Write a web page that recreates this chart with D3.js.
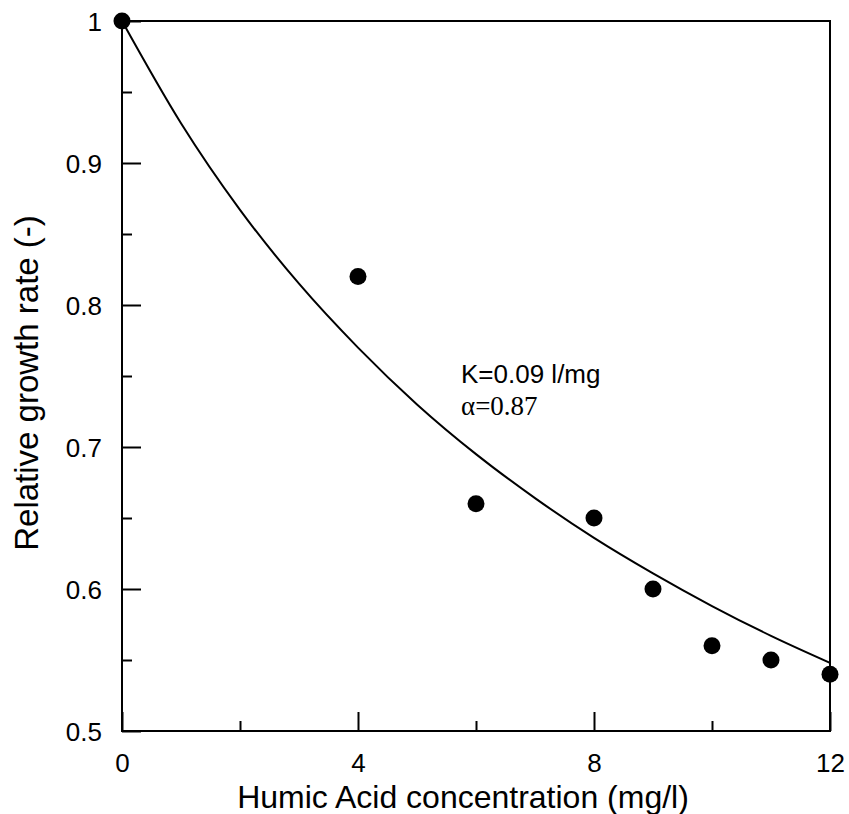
<!DOCTYPE html>
<html>
<head>
<meta charset="utf-8">
<script src="https://cdn.jsdelivr.net/npm/d3@7"></script>
<style>
  body { margin: 0; background: #fff; }
  text { font-family: Arial, "Liberation Sans", sans-serif; fill: #000; }
</style>
</head>
<body>
<div class="container"></div>
<script>
// measured points
var concentration = [0, 4, 6, 8, 9, 10, 11, 12];
var growthRate = [1, 0.82, 0.66, 0.65, 0.6, 0.56, 0.55, 0.54];

// fitted curve
var curveX = [0, 1, 2, 3, 4, 5, 6, 7, 8, 9, 10, 11, 12];
var curveY = [1, 0.928, 0.867, 0.815, 0.770, 0.730, 0.695, 0.664, 0.636, 0.611, 0.588, 0.567, 0.548];

var xTicks = [0, 4, 8, 12];
var xMinorTicks = [2, 6, 10];
var yTicks = [0.5, 0.6, 0.7, 0.8, 0.9, 1];
var yMinorTicks = [0.55, 0.65, 0.75, 0.85, 0.95];

var svgWidth = 849;
var svgHeight = 814;

var chartMargin = {
    top: 21,
    bottom: 83,
    left: 122,
    right: 19
};

var chartWidth = svgWidth - (chartMargin.left + chartMargin.right);
var chartHeight = svgHeight - (chartMargin.top + chartMargin.bottom);

var svg = d3
    .select(".container")
    .append("svg")
    .attr("height", svgHeight)
    .attr("width", svgWidth);

var chartGroup = svg.append("g")
    .attr("transform", `translate(${chartMargin.left}, ${chartMargin.top})`);

var xScale = d3.scaleLinear()
    .domain([0, 12])
    .range([0, chartWidth]);

var yScale = d3.scaleLinear()
    .domain([0.5, 1])
    .range([chartHeight, 0]);

// frame
chartGroup.append("rect")
    .attr("width", chartWidth)
    .attr("height", chartHeight)
    .attr("fill", "none")
    .attr("stroke", "#000")
    .attr("stroke-width", 2);

// ticks point inward
var leftAxis = d3.axisLeft(yScale).tickValues(yTicks).tickSize(-19).tickPadding(20)
    .tickFormat(d => d === 1 ? "1" : d3.format(".1f")(d));
var bottomAxis = d3.axisBottom(xScale).tickValues(xTicks).tickSize(-19).tickPadding(23)
    .tickFormat(d3.format("d"));

var yAxisG = chartGroup.append("g").call(leftAxis);
var xAxisG = chartGroup.append("g")
    .attr("transform", `translate(0, ${chartHeight})`)
    .call(bottomAxis);

chartGroup.append("g").call(d3.axisLeft(yScale).tickValues(yMinorTicks).tickSize(-10).tickFormat(""));
chartGroup.append("g")
    .attr("transform", `translate(0, ${chartHeight})`)
    .call(d3.axisBottom(xScale).tickValues(xMinorTicks).tickSize(-10).tickFormat(""));

chartGroup.selectAll(".domain").remove();
chartGroup.selectAll(".tick line").attr("stroke", "#000").attr("stroke-width", 2);
chartGroup.selectAll(".tick text")
    .style("font-size", "26px")
    .style("font-family", "Arial, 'Liberation Sans', sans-serif");
yAxisG.selectAll(".tick text").attr("dy", "0.36em");

// curve
var line = d3.line()
    .x(d => xScale(d[0]))
    .y(d => yScale(d[1]))
    .curve(d3.curveMonotoneX);

chartGroup.append("path")
    .datum(curveX.map((x, i) => [x, curveY[i]]))
    .attr("d", line)
    .attr("fill", "none")
    .attr("stroke", "#000")
    .attr("stroke-width", 2);

// points
chartGroup.selectAll(".dot")
    .data(concentration.map((x, i) => [x, growthRate[i]]))
    .enter()
    .append("circle")
    .classed("dot", true)
    .attr("cx", d => xScale(d[0]))
    .attr("cy", d => yScale(d[1]))
    .attr("r", 8.5)
    .attr("fill", "#000");

// annotation
svg.append("text")
    .attr("x", 461)
    .attr("y", 383)
    .style("font-size", "26px")
    .text("K=0.09 l/mg");

svg.append("text")
    .attr("x", 461)
    .attr("y", 415)
    .style("font-size", "27px")
    .style("font-family", "'Liberation Serif', 'Times New Roman', serif")
    .text("\u03b1=0.87");

// axis titles
svg.append("text")
    .attr("x", 463)
    .attr("y", 808)
    .attr("text-anchor", "middle")
    .style("font-size", "32px")
    .text("Humic Acid concentration (mg/l)");

svg.append("text")
    .attr("transform", "translate(38, 383) rotate(-90)")
    .attr("text-anchor", "middle")
    .style("font-size", "33px")
    .text("Relative growth rate (-)");
</script>
</body>
</html>
